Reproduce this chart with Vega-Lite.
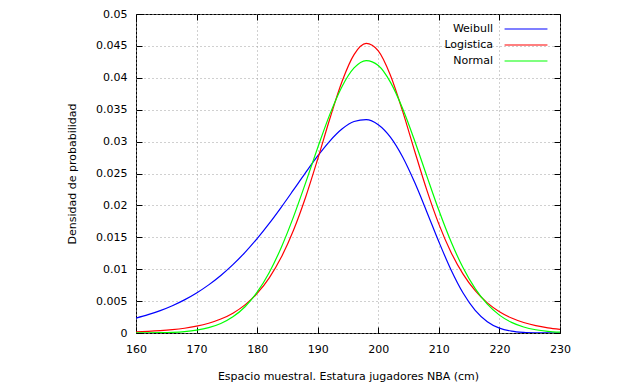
{
  "$schema": "https://vega.github.io/schema/vega-lite/v6.json",
  "width": 424,
  "height": 319,
  "autosize": {"type": "none"},
  "padding": {"left": 136, "top": 14, "right": 80, "bottom": 51},
  "background": "white",
  "config": {
    "view": {"stroke": "black", "strokeWidth": 1},
    "font": "DejaVu Sans",
    "axis": {"labelFont": "DejaVu Sans", "labelFontSize": 11, "labelColor": "black", "titleFont": "DejaVu Sans", "titleFontSize": 11, "titleFontWeight": "normal", "titleColor": "black", "tickColor": "black", "domain": false, "labelFlush": false, "labelOverlap": false}
  },
  "datasets": {
    "curves": [
      {"x":160,"y":0.0023344,"s":"Weibull"},{"x":162,"y":0.0028686,"s":"Weibull"},{"x":164,"y":0.0035107,"s":"Weibull"},{"x":166,"y":0.0042794,"s":"Weibull"},{"x":168,"y":0.0051933,"s":"Weibull"},{"x":170,"y":0.0062752,"s":"Weibull"},{"x":172,"y":0.0075423,"s":"Weibull"},{"x":174,"y":0.009017,"s":"Weibull"},{"x":176,"y":0.0107122,"s":"Weibull"},{"x":178,"y":0.012641,"s":"Weibull"},{"x":180,"y":0.014802,"s":"Weibull"},{"x":182,"y":0.017181,"s":"Weibull"},{"x":184,"y":0.019742,"s":"Weibull"},{"x":186,"y":0.022424,"s":"Weibull"},{"x":188,"y":0.025136,"s":"Weibull"},{"x":190,"y":0.027747,"s":"Weibull"},{"x":192,"y":0.030089,"s":"Weibull"},{"x":194,"y":0.031965,"s":"Weibull"},{"x":196,"y":0.033151,"s":"Weibull"},{"x":198,"y":0.033439,"s":"Weibull"},{"x":200,"y":0.032648,"s":"Weibull"},{"x":202,"y":0.030698,"s":"Weibull"},{"x":204,"y":0.027621,"s":"Weibull"},{"x":206,"y":0.023613,"s":"Weibull"},{"x":208,"y":0.01902,"s":"Weibull"},{"x":210,"y":0.014298,"s":"Weibull"},{"x":212,"y":0.009919,"s":"Weibull"},{"x":214,"y":0.006269,"s":"Weibull"},{"x":216,"y":0.003556,"s":"Weibull"},{"x":218,"y":0.00178,"s":"Weibull"},{"x":220,"y":0.00077,"s":"Weibull"},{"x":222,"y":0.000282,"s":"Weibull"},{"x":224,"y":0.0000853,"s":"Weibull"},{"x":226,"y":0.0000207,"s":"Weibull"},{"x":228,"y":0.000004,"s":"Weibull"},{"x":230,"y":0.0000007,"s":"Weibull"},
      {"x":160,"y":0.0001762,"s":"Logistica"},{"x":162,"y":0.0002532,"s":"Logistica"},{"x":164,"y":0.0003634,"s":"Logistica"},{"x":166,"y":0.0005216,"s":"Logistica"},{"x":168,"y":0.0007481,"s":"Logistica"},{"x":170,"y":0.0010712,"s":"Logistica"},{"x":172,"y":0.0015322,"s":"Logistica"},{"x":174,"y":0.0021874,"s":"Logistica"},{"x":176,"y":0.0031123,"s":"Logistica"},{"x":178,"y":0.004407,"s":"Logistica"},{"x":180,"y":0.006201,"s":"Logistica"},{"x":182,"y":0.008646,"s":"Logistica"},{"x":184,"y":0.011903,"s":"Logistica"},{"x":186,"y":0.016107,"s":"Logistica"},{"x":188,"y":0.021285,"s":"Logistica"},{"x":190,"y":0.027273,"s":"Logistica"},{"x":192,"y":0.033584,"s":"Logistica"},{"x":194,"y":0.039387,"s":"Logistica"},{"x":196,"y":0.043634,"s":"Logistica"},{"x":198,"y":0.045383,"s":"Logistica"},{"x":200,"y":0.044207,"s":"Logistica"},{"x":202,"y":0.040395,"s":"Logistica"},{"x":204,"y":0.034817,"s":"Logistica"},{"x":206,"y":0.02853,"s":"Logistica"},{"x":208,"y":0.022433,"s":"Logistica"},{"x":210,"y":0.017065,"s":"Logistica"},{"x":212,"y":0.012666,"s":"Logistica"},{"x":214,"y":0.009228,"s":"Logistica"},{"x":216,"y":0.006635,"s":"Logistica"},{"x":218,"y":0.004722,"s":"Logistica"},{"x":220,"y":0.003338,"s":"Logistica"},{"x":222,"y":0.002348,"s":"Logistica"},{"x":224,"y":0.001646,"s":"Logistica"},{"x":226,"y":0.001151,"s":"Logistica"},{"x":228,"y":0.000804,"s":"Logistica"},{"x":230,"y":0.00056,"s":"Logistica"},
      {"x":160,"y":0.00001,"s":"Normal"},{"x":162,"y":0.0000234,"s":"Normal"},{"x":164,"y":0.0000524,"s":"Normal"},{"x":166,"y":0.000112,"s":"Normal"},{"x":168,"y":0.000229,"s":"Normal"},{"x":170,"y":0.000448,"s":"Normal"},{"x":172,"y":0.000836,"s":"Normal"},{"x":174,"y":0.001489,"s":"Normal"},{"x":176,"y":0.002534,"s":"Normal"},{"x":178,"y":0.00412,"s":"Normal"},{"x":180,"y":0.006398,"s":"Normal"},{"x":182,"y":0.009491,"s":"Normal"},{"x":184,"y":0.013447,"s":"Normal"},{"x":186,"y":0.0182,"s":"Normal"},{"x":188,"y":0.023528,"s":"Normal"},{"x":190,"y":0.029053,"s":"Normal"},{"x":192,"y":0.034267,"s":"Normal"},{"x":194,"y":0.038606,"s":"Normal"},{"x":196,"y":0.041544,"s":"Normal"},{"x":198,"y":0.042703,"s":"Normal"},{"x":200,"y":0.041927,"s":"Normal"},{"x":202,"y":0.03932,"s":"Normal"},{"x":204,"y":0.035222,"s":"Normal"},{"x":206,"y":0.03014,"s":"Normal"},{"x":208,"y":0.024632,"s":"Normal"},{"x":210,"y":0.019229,"s":"Normal"},{"x":212,"y":0.014338,"s":"Normal"},{"x":214,"y":0.010214,"s":"Normal"},{"x":216,"y":0.006948,"s":"Normal"},{"x":218,"y":0.004516,"s":"Normal"},{"x":220,"y":0.002803,"s":"Normal"},{"x":222,"y":0.001662,"s":"Normal"},{"x":224,"y":0.000941,"s":"Normal"},{"x":226,"y":0.000509,"s":"Normal"},{"x":228,"y":0.000263,"s":"Normal"},{"x":230,"y":0.00013,"s":"Normal"}
    ]
  },
  "data": {"name": "curves"},
  "layer": [
    {
      "mark": {"type": "line", "interpolate": "monotone", "strokeWidth": 1.2, "clip": true},
      "encoding": {
        "x": {"field": "x", "type": "quantitative", "scale": {"domain": [160, 230], "nice": false, "zero": false},
          "axis": {"orient": "bottom", "values": [160,170,180,190,200,210,220,230], "format": "d", "grid": true, "gridColor": "#a0a0a0", "gridDash": [1, 3], "tickSize": -6, "labelPadding": 16, "title": "Espacio muestral. Estatura jugadores NBA (cm)", "titleY": 43, "titleBaseline": "middle"}},
        "y": {"field": "y", "type": "quantitative", "scale": {"domain": [0, 0.05], "nice": false},
          "axis": {"orient": "left", "values": [0,0.005,0.01,0.015,0.02,0.025,0.03,0.035,0.04,0.045,0.05], "format": ".3~f", "grid": true, "gridColor": "#a0a0a0", "gridDash": [1, 3], "tickSize": -6, "labelPadding": 15, "title": "Densidad de probabilidad", "titleX": -64, "titleBaseline": "middle"}},
        "color": {"field": "s", "type": "nominal", "sort": ["Weibull", "Logistica", "Normal"],
          "scale": {"domain": ["Weibull", "Logistica", "Normal"], "range": ["#0000ff", "#ff0000", "#00ff00"]},
          "legend": {"title": null, "orient": "none", "legendX": 384, "legendY": 9, "symbolType": "M-4,0H4", "symbolSize": 115, "symbolStrokeWidth": 1.2, "labelFont": "DejaVu Sans", "labelFontSize": 11, "labelColor": "black", "labelAlign": "right", "labelOffset": -39, "rowPadding": 5}}
      }
    },
    {
      "mark": {"type": "line", "strokeOpacity": 0, "clip": true},
      "encoding": {
        "x": {"field": "x", "type": "quantitative", "axis": {"orient": "top", "values": [160,170,180,190,200,210,220,230], "labels": false, "grid": false, "tickSize": -6, "title": null}},
        "y": {"field": "y", "type": "quantitative", "axis": {"orient": "right", "values": [0,0.005,0.01,0.015,0.02,0.025,0.03,0.035,0.04,0.045,0.05], "labels": false, "grid": false, "tickSize": -6, "title": null}},
        "detail": {"field": "s"}
      }
    }
  ]
}
